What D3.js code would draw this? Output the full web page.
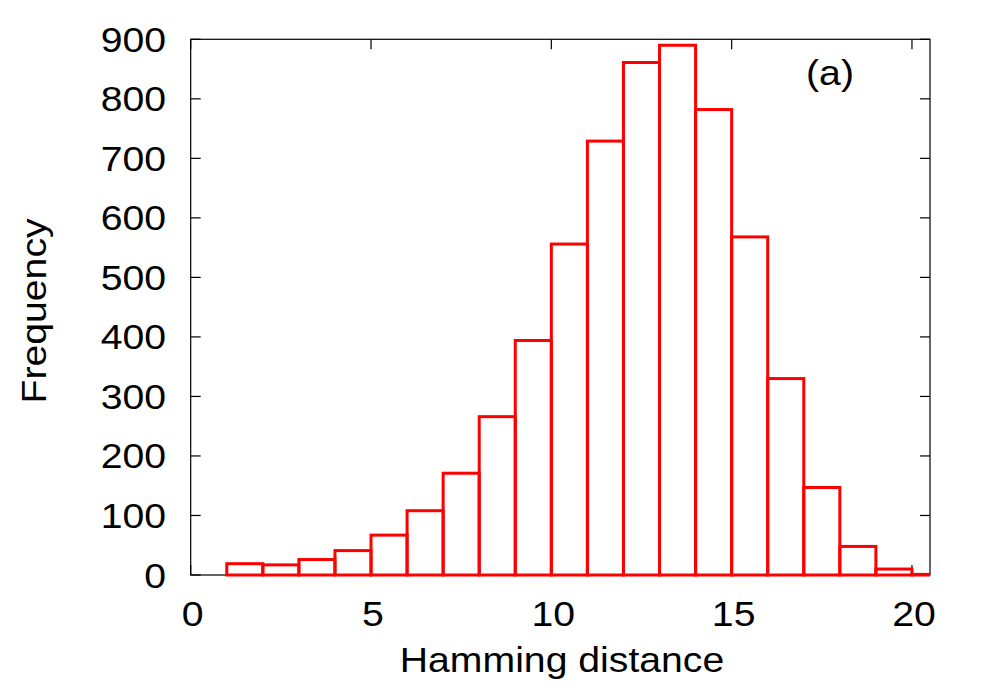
<!DOCTYPE html>
<html><head><meta charset="utf-8">
<script src="https://cdn.jsdelivr.net/npm/d3@7/dist/d3.min.js"></script>
<style>body{margin:0;background:#fff}svg{display:block}</style>
</head><body>
<svg id="c" width="1000" height="700"></svg>
<script>
// Data
const binStarts = [1,2,3,4,5,6,7,8,9,10,11,12,13,14,15,16,17,18,19,20];
const counts    = [19,17,26,41,67,108,171,266,394,556,729,861,890,782,568,330,147,48,10,1];
const xTicks = [0,5,10,15,20];
const yTicks = [0,100,200,300,400,500,600,700,800,900];
const xLabel = "Hamming distance";
const yLabel = "Frequency";
const panelLabel = "(a)";

const svg = d3.select("#c");
const L = 190.7, R = 930, T = 39.3, B = 575;
const x = d3.scaleLinear().domain([0, 20.5]).range([L, R]);
const y = d3.scaleLinear().domain([0, 900]).range([B, T]);
const FONT = "Liberation Sans, Arial, Helvetica, sans-serif";
const FS = 35, SX = 1.12;

function label(g, tx, ty, txt, anchor, rot) {
  const gg = g.append("g").attr("transform", `translate(${tx},${ty})` + (rot ? ` rotate(${rot})` : "") + ` scale(${SX},1)`);
  gg.append("text").attr("text-anchor", anchor).attr("font-family", FONT)
    .attr("font-size", FS).attr("fill", "#000").text(txt);
}

// clip
svg.append("defs").append("clipPath").attr("id", "plot")
  .append("rect").attr("x", L).attr("y", T - 5).attr("width", R - L).attr("height", B - T + 10);

// frame
svg.append("rect").attr("x", L).attr("y", T).attr("width", R - L).attr("height", B - T)
  .attr("fill", "none").attr("stroke", "#000").attr("stroke-width", 1.2);

// ticks
const tk = svg.append("g").attr("stroke", "#000").attr("stroke-width", 1.2);
xTicks.forEach(t => {
  tk.append("line").attr("x1", x(t)).attr("x2", x(t)).attr("y1", B).attr("y2", B - 10);
  tk.append("line").attr("x1", x(t)).attr("x2", x(t)).attr("y1", T).attr("y2", T + 10);
});
yTicks.forEach(t => {
  tk.append("line").attr("x1", L).attr("x2", L + 10).attr("y1", y(t)).attr("y2", y(t));
  tk.append("line").attr("x1", R).attr("x2", R - 10).attr("y1", y(t)).attr("y2", y(t));
});

// bars
svg.append("g").attr("clip-path", "url(#plot)").selectAll("rect")
  .data(binStarts.map((s, i) => ({s, v: counts[i]})))
  .join("rect")
  .attr("x", d => x(d.s)).attr("width", d => x(d.s + 1) - x(d.s))
  .attr("y", d => y(d.v)).attr("height", d => y(0) - y(d.v))
  .attr("fill", "none").attr("stroke", "#ff0000").attr("stroke-width", 3);

// tick labels
const tl = svg.append("g");
xTicks.forEach(t => label(tl, x(t) + 2, 626, String(t), "middle"));
yTicks.forEach(t => label(tl, 166, y(t) + 12.5, String(t), "end"));

// axis titles
label(svg, 562, 672, xLabel, "middle");
label(svg, 46, 311, yLabel, "middle", -90);
label(svg, 830, 85, panelLabel, "middle");
</script>
</body></html>
